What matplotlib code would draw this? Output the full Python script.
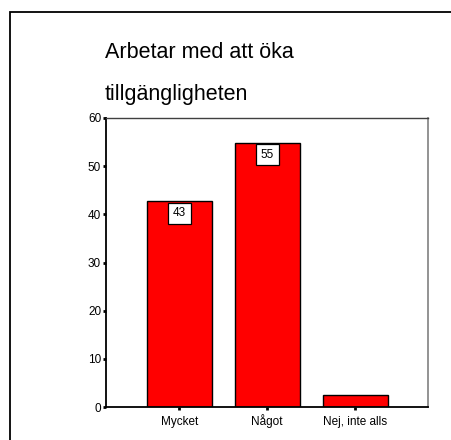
import matplotlib
matplotlib.use("Agg")
import matplotlib.pyplot as plt
from matplotlib.patches import Rectangle

categories = ["Mycket", "Något", "Nej, inte alls"]
values = [42.7, 54.9, 2.4]
labels = ["43", "55", None]
yticks = [0, 10, 20, 30, 40, 50, 60]
title1 = "Arbetar med att öka"
title2 = "tillgängligheten"

plt.rcParams['font.family'] = ['Liberation Sans', 'DejaVu Sans']

fig = plt.figure(figsize=(4.51, 4.40), dpi=100)
fig.patch.set_facecolor('white')

# outer frame
top = 1 - 12/440
fig.patches.append(Rectangle((10/451, -0.2), 1.2, top + 0.2, transform=fig.transFigure,
                             fill=False, edgecolor='black', linewidth=1.3, zorder=0))

ax = fig.add_axes([106/451, 1 - 407/440, (428 - 106)/451, (407 - 118)/440])
x = list(range(len(categories)))
ax.bar(x, values, width=0.74, color='#ff0000', edgecolor='black', linewidth=1.0, zorder=2)
ax.set_xlim(-0.835, 2.83)
ax.set_ylim(0, 60)
ax.set_yticks(yticks)
ax.set_xticks(x)
ax.set_xticklabels(categories, fontsize=8.5, va='baseline')
ax.tick_params(axis='y', labelsize=8.5, length=2.5, width=2, direction='out', pad=1)
ax.tick_params(axis='x', length=2.5, width=2, direction='out', pad=10.3)

ax.spines['left'].set_linewidth(1.3)
ax.spines['bottom'].set_linewidth(1.3)
ax.spines['top'].set_color('#404040')
ax.spines['top'].set_linewidth(1.0)
ax.spines['right'].set_color('#808080')
ax.spines['right'].set_linewidth(1.2)

for xi, v, lab in zip(x, values, labels):
    if lab:
        ax.annotate(lab, xy=(xi, v), xytext=(0, -8.7), textcoords='offset points',
                    ha='center', va='center', fontsize=8.5,
                    bbox=dict(boxstyle='square,pad=0.4', facecolor='white', edgecolor='black', linewidth=0.9),
                    zorder=3)

fig.text(105/451, 1 - 58/440, title1, fontsize=15.5, ha='left', va='baseline')
fig.text(105/451, 1 - 100/440, title2, fontsize=15.5, ha='left', va='baseline')

fig.savefig("out.png", dpi=100)
